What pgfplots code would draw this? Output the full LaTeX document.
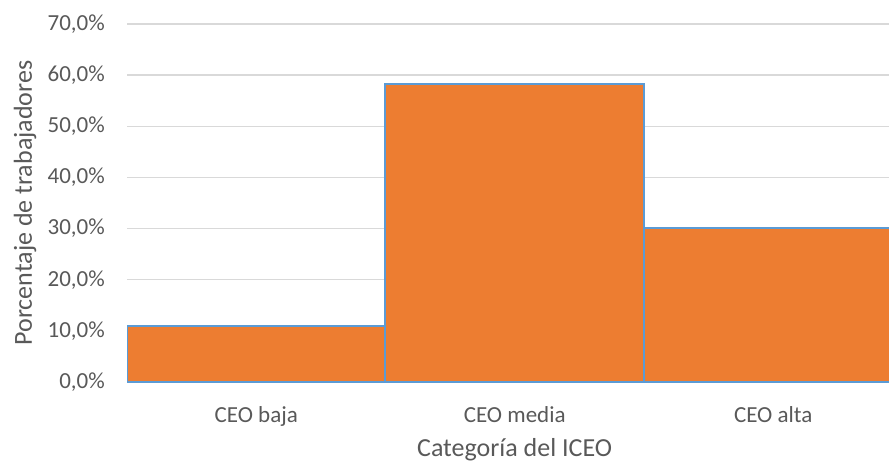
\documentclass[border=0pt]{standalone}
\usepackage{fontspec}
\setmainfont{Carlito}
\usepackage{pgfplots}
\pgfplotsset{compat=1.18}
\definecolor{barfill}{HTML}{ED7D31}
\definecolor{baredge}{HTML}{5B9BD5}
\definecolor{gridc}{HTML}{D9D9D9}
\definecolor{txt}{HTML}{595959}
\begin{document}
\begin{tikzpicture}
\path[use as bounding box] (0,0) rectangle (889pt,464pt);
\begin{axis}[
  at={(127pt,82pt)}, anchor=south west,
  scale only axis, width=762pt, height=358pt,
  xmin=-0.5, xmax=2.448, ymin=0, ymax=70,
  ytick={0,10,20,30,40,50,60,70},
  xtick={0,1,2}, xticklabels={CEO baja, CEO media, CEO alta},
  ymajorgrids, grid style={gridc, line width=1.5pt},
  axis line style={draw=none},
  major tick length=0pt,
  yticklabel={\pgfmathprintnumber[fixed, fixed zerofill, precision=1, use comma, assume math mode=true]{\tick}\%},
  ticklabel style={font=\fontsize{23}{27}\selectfont, text=txt},
  yticklabel style={anchor=east, inner sep=0pt, xshift=-22pt},
  xticklabel style={anchor=base, inner sep=0pt, yshift=-40pt},
  xlabel={Categoría del ICEO},
  ylabel={Porcentaje de trabajadores},
  label style={font=\fontsize{26}{30}\selectfont, text=txt},
  xlabel style={at={(axis description cs:0.5087,-0.207)}, anchor=base, inner sep=0pt},
  ylabel style={at={(axis description cs:-0.1247,0.5)}, anchor=base, inner sep=0pt},
]
\addplot[ybar, bar width=1, fill=barfill, draw=baredge, line width=2pt] coordinates {(0,11.0) (1,58.3) (2,30.1)};
\end{axis}
\end{tikzpicture}
\end{document}
